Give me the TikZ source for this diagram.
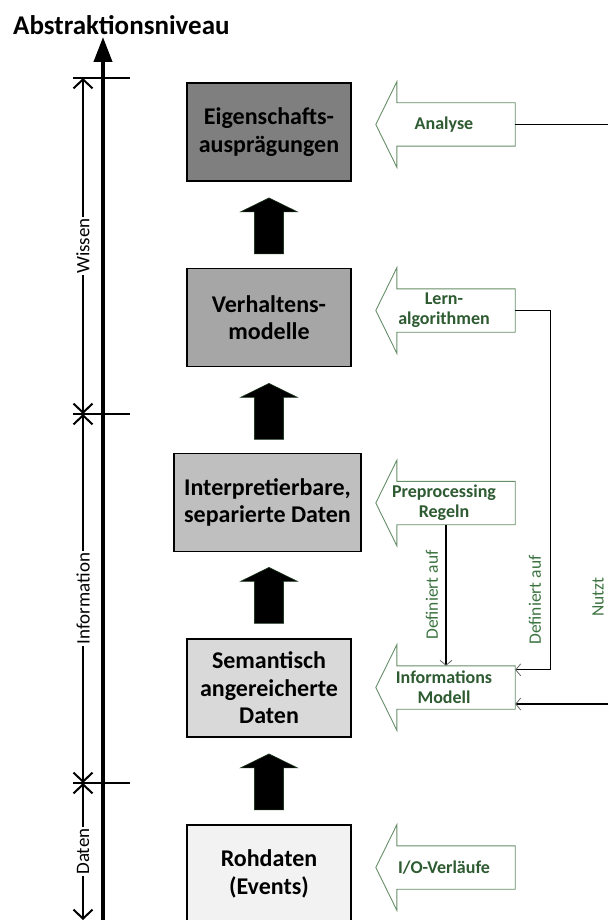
\documentclass[tikz,border=0pt]{standalone}
\usepackage{fontspec}
\setmainfont{Carlito}
\usetikzlibrary{arrows.meta,calc}

\definecolor{levelA}{HTML}{7F7F7F}
\definecolor{levelB}{HTML}{A6A6A6}
\definecolor{levelC}{HTML}{BFBFBF}
\definecolor{levelD}{HTML}{D9D9D9}
\definecolor{levelE}{HTML}{F2F2F2}
\definecolor{gtext}{HTML}{2E5B31}
\definecolor{glabel}{HTML}{3C7340}
\definecolor{gline}{HTML}{668F68}
\definecolor{arrowedge}{HTML}{1E3A1E}

% left-pointing block arrow drawn around a body node
\newcommand\leftblock[1]{%
  \draw[goutline] (#1.south east) -- (#1.north east) -- (#1.north west)
    -- ++(0pt,21pt) -- ($(#1.west)+(-21pt,0pt)$)
    -- ($(#1.south west)+(0pt,-21pt)$) -- (#1.south west) -- cycle;}

\begin{document}
\begin{tikzpicture}[x=1pt,y=-1pt,
  level/.style={draw=black, line width=1.8pt, minimum width=164pt,
    minimum height=98pt, align=center, inner sep=0pt,
    font=\fontsize{24}{27.5}\selectfont\bfseries},
  gbody/.style={minimum width=118pt, minimum height=43pt, inner sep=0pt},
  gtxt/.style={align=center, text=gtext, inner sep=0pt,
    font=\fontsize{18}{20}\selectfont\bfseries},
  goutline/.style={draw=gline, line width=0.9pt, fill=white},
  conn/.style={draw=black, line width=1.1pt},
  barb/.style={-{Straight Barb[length=5pt,width=12pt,line width=0.8pt,color=black!60]}},
  lbl/.style={rotate=90, text=glabel, inner sep=1pt,
    font=\fontsize{17.5}{20}\selectfont},
  tick/.style={line width=2pt},
  dim/.style={line width=2pt,
    {Straight Barb[length=9pt,width=19pt]}-{Straight Barb[length=9pt,width=19pt]}},
  dimlbl/.style={rotate=90, fill=white, inner sep=1.5pt,
    font=\fontsize{19}{22}\selectfont},
  uparrow/.pic={\fill[black, draw=arrowedge, line width=0.6pt]
    (-14.5,56) -- (-14.5,14) -- (-28.5,14) -- (0,0) -- (28.5,14)
    -- (14.5,14) -- (14.5,56) -- cycle;}]

\useasboundingbox (0,0) rectangle (608,920);
\clip (0,0) rectangle (608,920);

% title
\node[anchor=base west, inner sep=0pt, font=\fontsize{27}{31}\selectfont\bfseries]
  (title) at (13,35) {Abstraktionsniveau};

% main axis
\coordinate (axbot) at (103,930);
\coordinate (axtop) at (103,37);
\draw[line width=4pt, -{Triangle[length=25pt,width=18pt]}] (axbot) -- (axtop);

% level ticks
\coordinate (t1l) at (73,78);   \coordinate (t1r) at (130,78);
\coordinate (t2l) at (73,414);  \coordinate (t2r) at (130,414);
\coordinate (t3l) at (73,783);  \coordinate (t3r) at (130,783);
\coordinate (t4) at (83,920);
\draw[tick] (t1l) -- (t1r);
\draw[tick] (t2l) -- (t2r);
\draw[tick] (t3l) -- (t3r);

% range markers
\draw[dim] (83,78) -- node[dimlbl] (lw) {Wissen} (83,414);
\draw[dim] (83,414) -- node[dimlbl] (li) {Information} (83,783);
\draw[dim] (83,783) -- node[dimlbl] (ld) {Daten} (t4);

% abstraction levels
\node[level, fill=levelA] (eig) at (269,132) {Eigenschafts-\\ausprägungen};
\node[level, fill=levelB] (ver) at (269,317.5) {Verhaltens-\\modelle};
\node[level, fill=levelC, minimum width=187pt] (int) at (267.5,502.5)
  {Interpretierbare,\\separierte Daten};
\node[level, fill=levelD] (sem) at (269,688) {Semantisch\\angereicherte\\Daten};
\node[level, fill=levelE] (roh) at (269,874) {Rohdaten\\(Events)};

% transitions between levels
\pic at ($(eig.south)+(0pt,-16pt)$) {uparrow};
\pic at ($(ver.south)+(0pt,-16pt)$) {uparrow};
\pic at ($(int.south)+(1.5pt,-15pt)$) {uparrow};
\pic at ($(sem.south)+(0pt,-16pt)$) {uparrow};

% methods and inputs
\node[gbody] (ana) at (456,124.5) {};
\node[gbody] (lern) at (456,310.5) {};
\node[gbody] (prep) at (456,503) {};
\node[gbody] (inf) at (456,687.5) {};
\node[gbody] (io) at (456,867.5) {};
\leftblock{ana}
\leftblock{lern}
\leftblock{prep}
\leftblock{inf}
\leftblock{io}
\node[gtxt] (anat) at ($(ana)+(-12pt,0pt)$) {Analyse};
\node[gtxt] (lernt) at ($(lern)+(-12pt,0pt)$) {Lern-\\algorithmen};
\node[gtxt] (prept) at ($(prep)+(-12pt,0pt)$) {Preprocessing\\Regeln};
\node[gtxt] (inft) at ($(inf)+(-12pt,0pt)$) {Informations\\Modell};
\node[gtxt] (iot) at ($(io)+(-12pt,0pt)$) {I/O-Verläufe};

% relations
\coordinate (anaout) at (608,124.5);
\coordinate (nutzin) at (608,704);
\draw[conn] (ana.east) -- (anaout);
\draw[conn, barb] (lern.east) -- ++(35pt,0pt) |- ($(inf.north east)+(0pt,-4pt)$);
\draw[conn, barb] ($(prep.south)+(-10pt,0pt)$) -- ($(inf.north)+(-10pt,0pt)$);
\draw[conn, barb] (nutzin) -- ($(inf.east)+(0pt,-16.5pt)$);

\node[lbl] (def1) at (432,595) {Definiert auf};
\node[lbl] (def2) at (535,600) {Definiert auf};
\node[lbl] (nutzt) at (598,597) {Nutzt};

\end{tikzpicture}
\end{document}
